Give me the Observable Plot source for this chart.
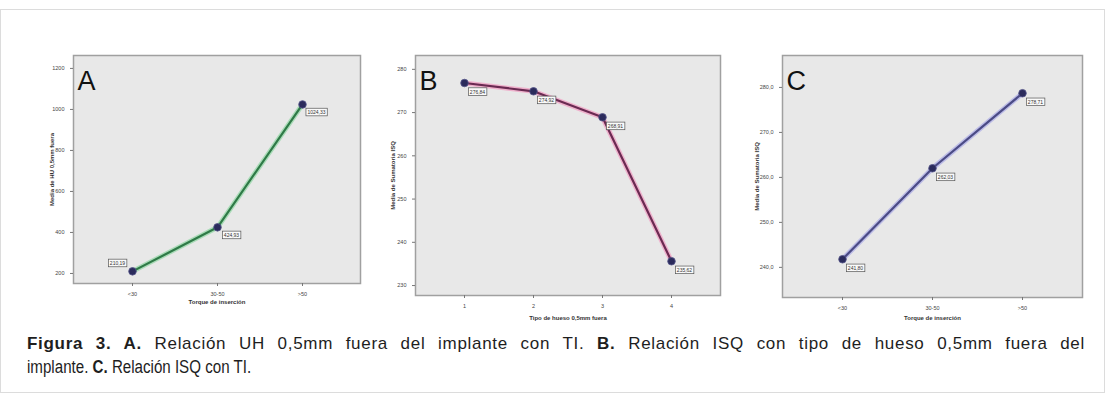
<!DOCTYPE html>
<html>
<head>
<meta charset="utf-8">
<script src="https://cdn.jsdelivr.net/npm/d3@7"></script>
<script src="https://cdn.jsdelivr.net/npm/@observablehq/plot@0.6"></script>
<style>
  html, body { margin: 0; padding: 0; background: #fff; }
  body { width: 1105px; height: 398px; position: relative; overflow: hidden; font-family: "Liberation Sans", Arial, sans-serif; }
  #border { position: absolute; left: 0; top: 9px; width: 1103px; height: 382px; border: 1px solid #dcdcdc; }
  .panel { position: absolute; }
  .cap { position: absolute; left: 27px; line-height: 20px; color: #1e1e1e; white-space: nowrap; }
  #cap1 { top: 334px; width: 1058px; font-size: 17px; text-align: justify; text-align-last: justify; white-space: normal; letter-spacing: 0.7px; }
  #cap2 { top: 357px; font-size: 18px; transform: scaleX(0.84); transform-origin: left top; }
</style>
</head>
<body>
<div id="border"></div>
<div id="pA" class="panel" style="left:20px; top:40px;"></div>
<div id="pB" class="panel" style="left:380px; top:40px;"></div>
<div id="pC" class="panel" style="left:740px; top:40px;"></div>
<div id="cap1" class="cap"><b>Figura 3. A.</b> Relación UH 0,5mm fuera del implante con TI. <b>B.</b> Relación ISQ con tipo de hueso 0,5mm fuera del</div>
<div id="cap2" class="cap">implante. <b>C.</b> Relación ISQ con TI.</div>
<script>
// ---- data ----
const torqueCats = ["<30", "30-50", ">50"];
const uhMeans = [210.19, 424.93, 1024.33];
const boneTypes = ["1", "2", "3", "4"];
const isqByBone = [276.84, 274.92, 268.91, 235.62];
const isqByTorque = [241.80, 262.03, 278.71];
const ticksA = [200, 400, 600, 800, 1000, 1200];
const ticksB = [230, 240, 250, 260, 270, 280];
const ticksC = [240, 250, 260, 270, 280];

const fmt = v => v.toFixed(2).replace(".", ",");
const rows = (cats, vals) => cats.map((c, i) => ({cat: c, value: vals[i], label: fmt(vals[i])}));
const allLabels = new Set([...uhMeans, ...isqByBone, ...isqByTorque].map(fmt));

function panel({data, cats, yDomain, yTicks, yTickFmt, yLabel, xLabel, letter, lineColor, haloColor,
                width, height, mL, mR, mT, mB, padding, yLabelOffset, xLabelOffset, firstLeft}) {
  const lab = (d, dx, dy) => Plot.text(d, {x: "cat", y: "value", text: "label", dx, dy, fontSize: 5, fill: "#333"});
  const labelMarks = firstLeft
    ? [lab(data.filter((d, i) => i === 0), -15, -8), lab(data.filter((d, i) => i > 0), 14, 8)]
    : [lab(data, 13, 9)];
  return Plot.plot({
    width, height,
    marginLeft: mL, marginRight: mR, marginTop: mT, marginBottom: mB,
    style: {fontFamily: "'Liberation Sans', Arial, sans-serif", background: "transparent", color: "#444"},
    x: {type: "point", domain: cats, padding},
    y: {domain: yDomain},
    marks: [
      Plot.frame({fill: "#e8e8e8", stroke: "#a0a0a0", strokeWidth: 1.5}),
      Plot.axisY({ticks: yTicks, tickFormat: yTickFmt, tickSize: 3, fontSize: 5.5, label: yLabel, labelAnchor: "center", labelArrow: "none", labelOffset: yLabelOffset, stroke: "#777"}),
      Plot.axisX({tickSize: 3, fontSize: 5.5, label: xLabel, labelAnchor: "center", labelArrow: "none", labelOffset: xLabelOffset, stroke: "#777"}),
      Plot.line(data, {x: "cat", y: "value", stroke: haloColor, strokeWidth: 5, strokeOpacity: 0.7}),
      Plot.line(data, {x: "cat", y: "value", stroke: lineColor, strokeWidth: 2.2}),
      Plot.dot(data, {x: "cat", y: "value", r: 3.8, fill: "#2b2b5c", stroke: "#55558a", strokeWidth: 0.8}),
      ...labelMarks,
      Plot.text([letter], {frameAnchor: "top-left", text: d => d, dx: 4, dy: 15, fontSize: 27, fill: "#111", lineAnchor: "top", textAnchor: "start"})
    ]
  });
}

const A = panel({
  data: rows(torqueCats, uhMeans), cats: torqueCats,
  yDomain: [151, 1263], yTicks: ticksA, yTickFmt: d => String(d),
  yLabel: "Media de HU 0,5mm fuera", xLabel: "Torque de inserción", letter: "A",
  lineColor: "#2f7a47", haloColor: "#8fd6a3",
  width: 350, height: 270, mL: 53, mR: 10, mT: 15, mB: 27, padding: 0.67,
  yLabelOffset: 24, xLabelOffset: 20, firstLeft: true
});
const B = panel({
  data: rows(boneTypes, isqByBone), cats: boneTypes,
  yDomain: [227.7, 283.2], yTicks: ticksB, yTickFmt: d => String(d),
  yLabel: "Media de Sumatoria ISQ", xLabel: "Tipo de hueso 0,5mm fuera", letter: "B",
  lineColor: "#6b2a52", haloColor: "#f19ac0",
  width: 350, height: 290, mL: 35, mR: 10, mT: 15, mB: 35, padding: 0.71,
  yLabelOffset: 25, xLabelOffset: 24, firstLeft: false
});
const C = panel({
  data: rows(torqueCats, isqByTorque), cats: torqueCats,
  yDomain: [233.3, 287.1], yTicks: ticksC, yTickFmt: d => d.toFixed(1).replace(".", ","),
  yLabel: "Media de Sumatoria ISQ", xLabel: "Torque de inserción", letter: "C",
  lineColor: "#4b4b86", haloColor: "#a9a9e6",
  width: 360, height: 290, mL: 42, mR: 18, mT: 15, mB: 33, padding: 0.66,
  yLabelOffset: 28, xLabelOffset: 22, firstLeft: false
});
document.getElementById("pA").appendChild(A);
document.getElementById("pB").appendChild(B);
document.getElementById("pC").appendChild(C);

// boxes behind value labels
document.querySelectorAll('svg text').forEach(t => {
  if (!allLabels.has(t.textContent.trim())) return;
  if (t.closest('g[aria-label*="tick"]')) return;
  const bb = t.getBBox();
  const r = document.createElementNS("http://www.w3.org/2000/svg", "rect");
  r.setAttribute("x", bb.x - 1.5); r.setAttribute("y", bb.y - 0.8);
  r.setAttribute("width", bb.width + 3); r.setAttribute("height", bb.height + 1.6);
  r.setAttribute("fill", "#fafafa"); r.setAttribute("stroke", "#555"); r.setAttribute("stroke-width", 0.7);
  if (t.getAttribute("transform")) r.setAttribute("transform", t.getAttribute("transform"));
  t.parentNode.insertBefore(r, t);
});
// bold small axis titles
document.querySelectorAll('svg g[aria-label$="axis label"] text').forEach(t => {
  t.setAttribute("font-weight", "bold"); t.setAttribute("font-size", "6"); t.setAttribute("fill", "#333");
});
</script>
</body>
</html>
